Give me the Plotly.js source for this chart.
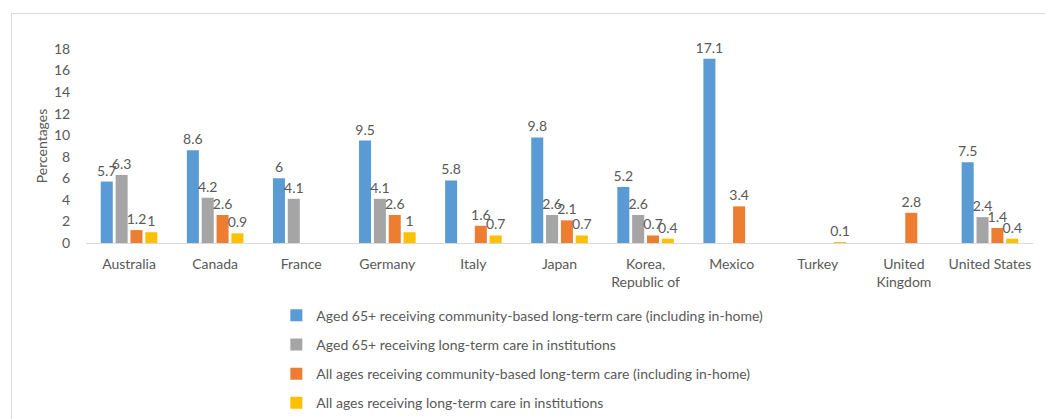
<!DOCTYPE html>
<html>
<head>
<meta charset="utf-8">
<script src="https://cdn.plot.ly/plotly-3.0.1.min.js"></script>
<style>
  html, body { margin:0; padding:0; background:#fff; }
  #frame { position:absolute; left:11px; top:13px; width:1040px; height:420px; border-left:1px solid #d9d9d9; border-top:1px solid #d9d9d9; }
  #chart { position:absolute; left:0; top:0; width:1045px; height:419px; }
</style>
</head>
<body>
<div id="frame"></div>
<div id="chart"></div>
<script>
const countries = ["Australia","Canada","France","Germany","Italy","Japan","Korea,<br>Republic of","Mexico","Turkey","United<br>Kingdom","United States"];
const seriesNames = [
  "Aged 65+ receiving community-based long-term care (including in-home)",
  "Aged 65+ receiving long-term care in institutions",
  "All ages receiving community-based long-term care (including in-home)",
  "All ages receiving long-term care in institutions"
];
const aged65Community = [5.7, 8.6, 6, 9.5, 5.8, 9.8, 5.2, 17.1, null, null, 7.5];
const aged65Institutions = [6.3, 4.2, 4.1, 4.1, null, 2.6, 2.6, null, null, null, 2.4];
const allAgesCommunity = [1.2, 2.6, null, 2.6, 1.6, 2.1, 0.7, 3.4, null, 2.8, 1.4];
const allAgesInstitutions = [1, 0.9, null, 1, 0.7, 0.7, 0.4, null, 0.1, null, 0.4];
const yTicks = [0,2,4,6,8,10,12,14,16,18];

const colors = ["#5B9BD5","#A5A5A5","#ED7D31","#FFC000"];
const seriesValues = [aged65Community, aged65Institutions, allAgesCommunity, allAgesInstitutions];
const FONT = "Lato, 'Open Sans', sans-serif";
const TXT = "#595959";

const traces = seriesValues.map((vals, i) => ({
  type: "bar",
  name: seriesNames[i],
  legendgroup: "g" + i,
  x: countries,
  y: vals,
  marker: { color: colors[i] },
  text: vals.map(v => v === null ? "" : String(v)),
  textposition: "outside",
  constraintext: "none",
  cliponaxis: false,
  textfont: { family: FONT, size: 14, color: TXT },
  hoverinfo: "x+y+name"
}));

const layout = {
  width: 1045, height: 419,
  margin: { l: 86, r: 12, t: 49, b: 176, autoexpand: false },
  paper_bgcolor: "rgba(0,0,0,0)",
  plot_bgcolor: "rgba(0,0,0,0)",
  font: { family: FONT, size: 14, color: TXT },
  barmode: "group",
  bargap: 0.31,
  bargroupgap: 0.19,
  xaxis: {
    type: "category",
    showline: true, linecolor: "#d9d9d9", linewidth: 1,
    ticks: "outside", ticklen: 8, tickcolor: "rgba(0,0,0,0)",
    tickfont: { family: FONT, size: 14, color: TXT },
    showgrid: false, zeroline: false, fixedrange: true
  },
  yaxis: {
    range: [0, 18],
    tickvals: yTicks,
    ticktext: yTicks.map(String),
    showgrid: false, zeroline: false, showline: false,
    ticks: "outside", ticklen: 12, tickcolor: "rgba(0,0,0,0)",
    tickfont: { family: FONT, size: 14, color: TXT },
    title: { text: "Percentages", font: { family: FONT, size: 14, color: TXT }, standoff: 3 },
    fixedrange: true
  },
  showlegend: true,
  legend: {
    orientation: "v",
    x: 0.201, xanchor: "left",
    y: -0.292, yanchor: "top",
    traceorder: "grouped",
    tracegroupgap: 8,
    font: { family: FONT, size: 14, color: TXT },
    bgcolor: "rgba(0,0,0,0)"
  }
};

Plotly.newPlot("chart", traces, layout, { displayModeBar: false, staticPlot: true });
</script>
</body>
</html>
